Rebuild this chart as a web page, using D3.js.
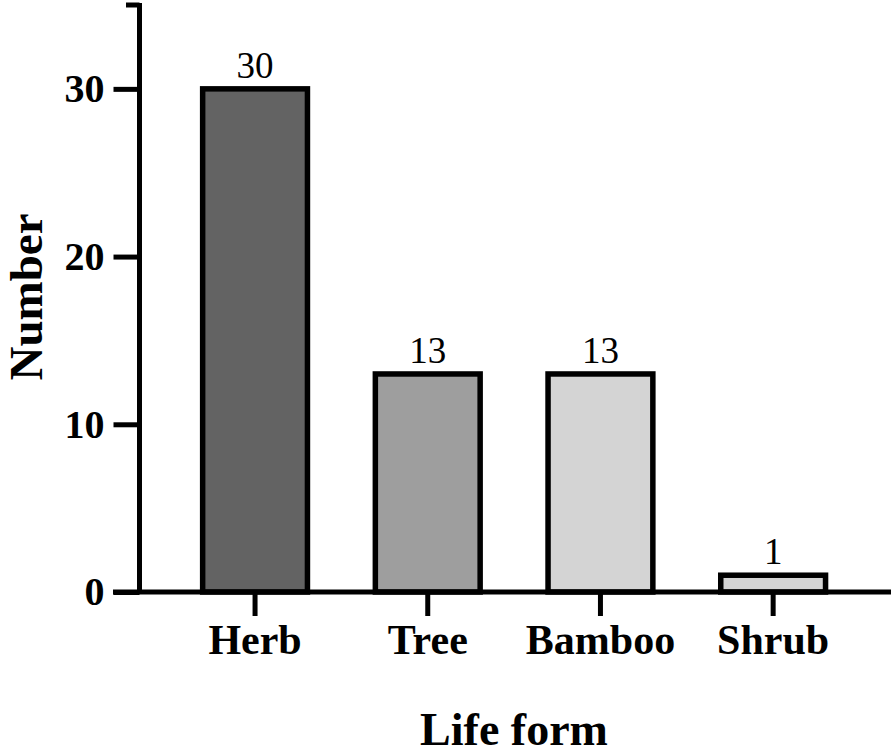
<!DOCTYPE html>
<html><head><meta charset="utf-8">
<script src="https://cdn.jsdelivr.net/npm/d3@7"></script>
<style>body{margin:0;background:#fff}svg{display:block}text{font-family:"Liberation Serif","Times New Roman",serif}</style>
</head><body><svg id="c" width="894" height="756"></svg>
<script>
const categories = ["Herb", "Tree", "Bamboo", "Shrub"];
const values = [30, 13, 13, 1];
const fills = ["#636363", "#9e9e9e", "#d4d4d4", "#d4d4d4"];
const yTicks = [0, 10, 20, 30];
const yMax = 35;

const svg = d3.select("#c");
const x = d3.scaleBand().domain(categories).range([168.7, 859.5]).paddingInner(0.37).paddingOuter(0.185);
const y = d3.scaleLinear().domain([0, yMax]).range([592, 5]);
const sw = 5;

// bars
svg.selectAll("rect.bar").data(categories).join("rect")
  .attr("class", "bar")
  .attr("x", d => x(d) + sw / 2 - 0.5)
  .attr("width", x.bandwidth() - sw + 1)
  .attr("y", (d, i) => y(values[i]))
  .attr("height", (d, i) => y(0) - y(values[i]))
  .attr("fill", (d, i) => fills[i])
  .attr("stroke", "#000").attr("stroke-width", sw + 0.5);

// value labels
svg.selectAll("text.val").data(categories).join("text")
  .attr("class", "val")
  .attr("x", d => x(d) + x.bandwidth() / 2)
  .attr("y", (d, i) => y(values[i]) - 11)
  .attr("text-anchor", "middle")
  .attr("font-size", 37)
  .text((d, i) => values[i]);

// y axis
const yAxis = d3.axisLeft(y).tickValues(yTicks).tickSize(26).tickPadding(9).tickSizeOuter(0);
const gy = svg.append("g").attr("transform", "translate(139.5,0)").call(yAxis);
gy.select(".domain").remove();
gy.selectAll(".tick line").attr("stroke", "#000").attr("stroke-width", sw);
gy.selectAll(".tick text").attr("font-size", 40).attr("font-weight", "bold").attr("fill", "#000")
  .attr("font-family", '"Liberation Serif","Times New Roman",serif');
svg.append("line").attr("x1", 139.5).attr("x2", 139.5).attr("y1", y(0)).attr("y2", y(yMax) - 2)
  .attr("stroke", "#000").attr("stroke-width", sw);
svg.append("line").attr("x1", 126).attr("x2", 139.5).attr("y1", y(yMax)).attr("y2", y(yMax))
  .attr("stroke", "#000").attr("stroke-width", sw);

// x axis
const xAxis = d3.axisBottom(x).tickSize(24).tickPadding(8).tickSizeOuter(0);
const gx = svg.append("g").attr("transform", `translate(0,${y(0)})`).call(xAxis);
gx.select(".domain").remove();
gx.selectAll(".tick line").attr("stroke", "#000").attr("stroke-width", sw);
gx.selectAll(".tick text").attr("font-size", 42).attr("font-weight", "bold").attr("fill", "#000")
  .attr("font-family", '"Liberation Serif","Times New Roman",serif');
svg.append("line").attr("x1", 113).attr("x2", 891).attr("y1", y(0)).attr("y2", y(0))
  .attr("stroke", "#000").attr("stroke-width", sw);

// axis titles
svg.append("text").attr("x", 514).attr("y", 745).attr("text-anchor", "middle")
  .attr("font-size", 46).attr("font-weight", "bold").text("Life form");
svg.append("text").attr("transform", "translate(42,297) rotate(-90)").attr("text-anchor", "middle")
  .attr("font-size", 47).attr("font-weight", "bold").text("Number");
</script></body></html>
